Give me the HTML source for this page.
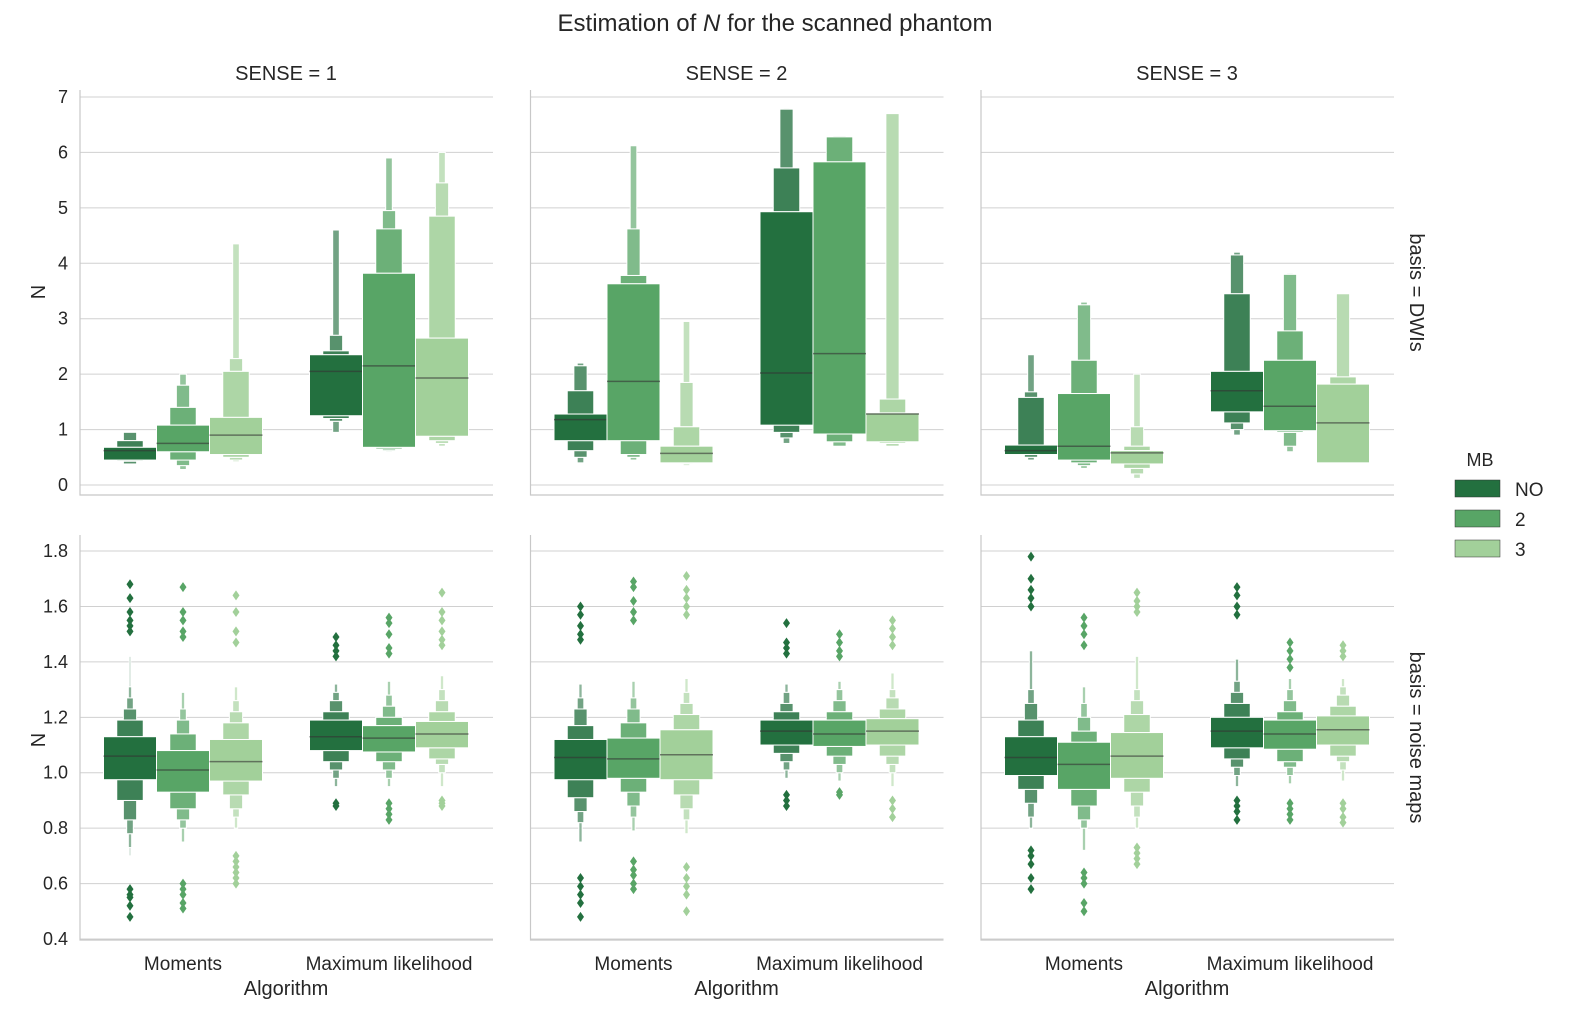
<!DOCTYPE html>
<html><head><meta charset="utf-8">
<style>
body{margin:0;background:#fff;}
svg text{font-family:"Liberation Sans",Arial,sans-serif;fill:#262626;}
</style></head><body>
<svg id="chart" width="1590" height="1025" xmlns="http://www.w3.org/2000/svg">
<text x="775" y="31" font-size="24" text-anchor="middle">Estimation of <tspan font-style="italic">N</tspan> for the scanned phantom</text>
<g id="plots"></g>
<g>
<text x="1480" y="466" font-size="18" text-anchor="middle">MB</text>
<rect x="1455" y="480" width="45" height="17" fill="#23703f" stroke="#333" stroke-width="0.5"/>
<text x="1515" y="496" font-size="19">NO</text>
<rect x="1455" y="510" width="45" height="17" fill="#58a566" stroke="#333" stroke-width="0.5"/>
<text x="1515" y="526" font-size="19">2</text>
<rect x="1455" y="540" width="45" height="17" fill="#a2d09a" stroke="#333" stroke-width="0.5"/>
<text x="1515" y="556" font-size="19">3</text>
</g>
</svg>
<script>
const senses=["SENSE = 1","SENSE = 2","SENSE = 3"];
const algorithms=["Moments","Maximum likelihood"];
const hues=["NO","2","3"];
const topTicks=[0,1,2,3,4,5,6,7];
const botTicks=[0.4,0.6,0.8,1.0,1.2,1.4,1.6,1.8];
const topMedians=[
 [[0.62,0.75,0.9],[2.05,2.15,1.93]],
 [[1.18,1.87,0.57],[2.02,2.37,1.28]],
 [[0.62,0.7,0.58],[1.7,1.42,1.12]]];
const topLevels=[
 [[[[0.45,0.68],[0.43,0.8],[0.38,0.95]],
   [[0.6,1.08],[0.45,1.4],[0.35,1.8],[0.28,2.0]],
   [[0.55,1.22],[0.5,2.05],[0.45,2.28],[0.42,4.35]]],
  [[[1.25,2.35],[1.2,2.42],[1.15,2.7],[0.95,4.6]],
   [[0.68,3.82],[0.65,4.62],[0.62,4.95],[0.6,5.9]],
   [[0.88,2.65],[0.8,4.85],[0.75,5.45],[0.7,6.0]]]],
 [[[[0.8,1.28],[0.62,1.7],[0.5,2.15],[0.4,2.2]],
   [[0.8,3.63],[0.55,3.78],[0.5,4.62],[0.45,6.12]],
   [[0.4,0.7],[0.4,1.05],[0.38,1.85],[0.35,2.95]]],
  [[[1.08,4.93],[0.95,5.72],[0.85,6.78],[0.75,6.8]],
   [[0.92,5.83],[0.78,6.28],[0.7,6.3]],
   [[0.78,1.3],[0.75,1.55],[0.7,6.7]]]],
 [[[[0.55,0.72],[0.55,1.58],[0.5,1.68],[0.45,2.35]],
   [[0.45,1.65],[0.4,2.25],[0.35,3.25],[0.3,3.3]],
   [[0.38,0.62],[0.3,0.7],[0.2,1.05],[0.12,2.0]]],
  [[[1.32,2.05],[1.12,3.45],[1.0,4.15],[0.9,4.2]],
   [[0.98,2.25],[0.95,2.78],[0.7,3.8],[0.6,3.82]],
   [[0.4,1.82],[0.4,1.95],[0.4,3.45]]]]];
const botMedians=[
 [[1.06,1.01,1.04],[1.13,1.125,1.14]],
 [[1.055,1.05,1.065],[1.15,1.14,1.15]],
 [[1.055,1.03,1.06],[1.15,1.14,1.155]]];
const botLevels=[
 [[[[0.975,1.13],[0.9,1.19],[0.83,1.23],[0.78,1.27],[0.73,1.31],[0.7,1.42]],
   [[0.93,1.08],[0.87,1.14],[0.83,1.19],[0.8,1.23],[0.75,1.29]],
   [[0.97,1.12],[0.92,1.18],[0.87,1.22],[0.84,1.26],[0.8,1.31]]],
  [[[1.08,1.19],[1.04,1.22],[1.01,1.26],[0.98,1.29],[0.95,1.32]],
   [[1.075,1.17],[1.04,1.2],[1.01,1.24],[0.98,1.28],[0.95,1.33]],
   [[1.09,1.185],[1.05,1.22],[1.03,1.26],[1.0,1.3],[0.95,1.35]]]],
 [[[[0.975,1.12],[0.91,1.17],[0.86,1.23],[0.82,1.27],[0.75,1.32]],
   [[0.98,1.125],[0.93,1.18],[0.88,1.23],[0.84,1.27],[0.79,1.33]],
   [[0.975,1.155],[0.92,1.21],[0.87,1.25],[0.83,1.29],[0.78,1.34]]],
  [[[1.1,1.19],[1.07,1.22],[1.04,1.25],[1.01,1.29],[0.98,1.32]],
   [[1.095,1.19],[1.06,1.22],[1.03,1.26],[1.0,1.3],[0.97,1.33]],
   [[1.1,1.195],[1.06,1.23],[1.03,1.27],[1.0,1.3],[0.95,1.36]]]],
 [[[[0.99,1.13],[0.94,1.19],[0.89,1.25],[0.84,1.3],[0.8,1.44]],
   [[0.94,1.11],[0.88,1.15],[0.83,1.2],[0.8,1.25],[0.72,1.31]],
   [[0.98,1.145],[0.93,1.21],[0.88,1.26],[0.84,1.3],[0.8,1.42]]],
  [[[1.09,1.2],[1.05,1.25],[1.02,1.29],[0.99,1.33],[0.95,1.41]],
   [[1.085,1.19],[1.04,1.22],[1.02,1.26],[0.99,1.3],[0.96,1.34]],
   [[1.1,1.205],[1.06,1.24],[1.04,1.28],[1.01,1.31],[0.97,1.34]]]]];
const botOutliers=[
 [[[1.68,1.63,1.58,1.55,1.53,1.51,0.58,0.56,0.55,0.52,0.48],
   [1.67,1.58,1.55,1.51,1.49,0.6,0.58,0.56,0.53,0.51],
   [1.64,1.58,1.51,1.47,0.7,0.68,0.66,0.64,0.62,0.6]],
  [[1.49,1.46,1.44,1.42,0.89,0.88],
   [1.56,1.54,1.5,1.45,1.43,0.89,0.87,0.85,0.83],
   [1.65,1.58,1.55,1.51,1.48,1.46,0.9,0.89,0.88]]],
 [[[1.6,1.57,1.53,1.5,1.48,0.62,0.59,0.56,0.53,0.48],
   [1.69,1.67,1.62,1.58,1.55,0.68,0.65,0.63,0.6,0.58],
   [1.71,1.66,1.63,1.6,1.57,0.66,0.62,0.59,0.56,0.5]],
  [[1.54,1.47,1.45,1.43,0.92,0.9,0.88],
   [1.5,1.47,1.44,1.42,0.93,0.92],
   [1.55,1.52,1.49,1.46,0.9,0.87,0.84]]],
 [[[1.78,1.7,1.66,1.63,1.6,0.72,0.7,0.67,0.62,0.58],
   [1.56,1.53,1.5,1.46,0.64,0.62,0.6,0.53,0.5],
   [1.65,1.62,1.6,1.58,0.73,0.71,0.69,0.67]],
  [[1.67,1.64,1.6,1.57,0.9,0.88,0.86,0.83],
   [1.47,1.44,1.41,1.38,0.89,0.87,0.85,0.83],
   [1.46,1.44,1.42,0.89,0.87,0.84,0.82]]]];

const colors=[[35,112,63],[88,165,102],[162,208,154]];
const NS="http://www.w3.org/2000/svg";
const g=document.getElementById('plots');
function mk(tag,attrs,parent){const e=document.createElementNS(NS,tag);for(const k in attrs)e.setAttribute(k,attrs[k]);(parent||g).appendChild(e);return e;}
function mix(c,t){return 'rgb('+c.map(v=>Math.round(v+(255-v)*t)).join(',')+')';}
const rows=[
 {top:90,bottom:495,y:v=>485-v*55.43,ticks:topTicks,fmt:v=>String(v),med:topMedians,lev:topLevels,out:null,label:"basis = DWIs",nameY:292},
 {top:535,bottom:940,y:v=>939-(v-0.4)*277.1,ticks:botTicks,fmt:v=>v.toFixed(1),med:botMedians,lev:botLevels,out:botOutliers,label:"basis = noise maps",nameY:740}];
const PW=413, HW=53;
function colX(c){return 80+c*450.5;}
function groupX(c,a){return colX(c)+103+a*206;}
function hueX(c,a,h){return groupX(c,a)+(h-1)*HW;}

rows.forEach((R,ri)=>{
 for(let c=0;c<3;c++){
  const x0=colX(c);
  R.ticks.forEach(t=>{
   const l=mk('line',{x1:x0,x2:x0+PW,y1:R.y(t),y2:R.y(t),stroke:'#d0d0d0','stroke-width':1});
   
   
   if(c===0){const tx=mk('text',{x:68,y:R.y(t)+6,'font-size':18,'text-anchor':'end'});tx.textContent=R.fmt(t);
    
    }
  });
  const sp=mk('path',{d:`M${x0} ${R.top}V${R.bottom}H${x0+PW}`,fill:'none',stroke:'#c8c8c8','stroke-width':1.2});
  
  
  for(let a=0;a<2;a++)for(let h=0;h<3;h++){
   const cx=hueX(c,a,h), col=colors[h], lev=R.lev[c][a][h];
   for(let k=lev.length-1;k>=0;k--){
    const w=(k===0?HW:HW*Math.pow(0.5,k));
    const [lo,hi]=lev[k];
    if(k===0){
     const r=mk('rect',{x:cx-w/2,y:R.y(hi),width:w,height:R.y(lo)-R.y(hi),fill:mix(col,0),stroke:'#fff','stroke-width':1});
     
     
    } else {
     const inner=lev[k-1];
     const f=mix(col,Math.min(0.12*k,0.6));
     const r1=mk('rect',{x:cx-w/2,y:R.y(hi),width:w,height:R.y(inner[1])-R.y(hi),fill:f,stroke:'#fff','stroke-width':1});
     
     
     const r2=mk('rect',{x:cx-w/2,y:R.y(inner[0]),width:w,height:R.y(lo)-R.y(inner[0]),fill:f,stroke:'#fff','stroke-width':1});
     
     
    }
   }
   const my=R.y(R.med[c][a][h]);
   const m=mk('line',{x1:cx-HW/2,x2:cx+HW/2,y1:my,y2:my,stroke:'#333','stroke-opacity':0.6,'stroke-width':1.5});
   
   
   if(R.out){R.out[c][a][h].forEach(v=>{const y=R.y(v);
    const d=mk('path',{d:`M${cx} ${y-5}L${cx+3.5} ${y}L${cx} ${y+5}L${cx-3.5} ${y}Z`,fill:mix(col,0)});
    
    });}
  }
  if(ri===0){const t=mk('text',{x:x0+206,y:80,'font-size':20,'text-anchor':'middle'});t.textContent=senses[c];
   
   }
  if(ri===1){
   for(let a=0;a<2;a++){const t=mk('text',{x:groupX(c,a),y:970,'font-size':19,'text-anchor':'middle'});t.textContent=algorithms[a];
    
    }
   const t=mk('text',{x:x0+206,y:995,'font-size':20,'text-anchor':'middle'});t.textContent="Algorithm";
   
   
  }
 }
 const yl=mk('text',{x:0,y:0,'font-size':20,'text-anchor':'middle',transform:`translate(45 ${R.nameY}) rotate(-90)`});yl.textContent="N";
 
 
 const rl=mk('text',{x:0,y:0,'font-size':20,'text-anchor':'middle',transform:`translate(1410 ${(R.top+R.bottom)/2}) rotate(90)`});rl.textContent=R.label;
 
 
});
</script>
</body></html>
